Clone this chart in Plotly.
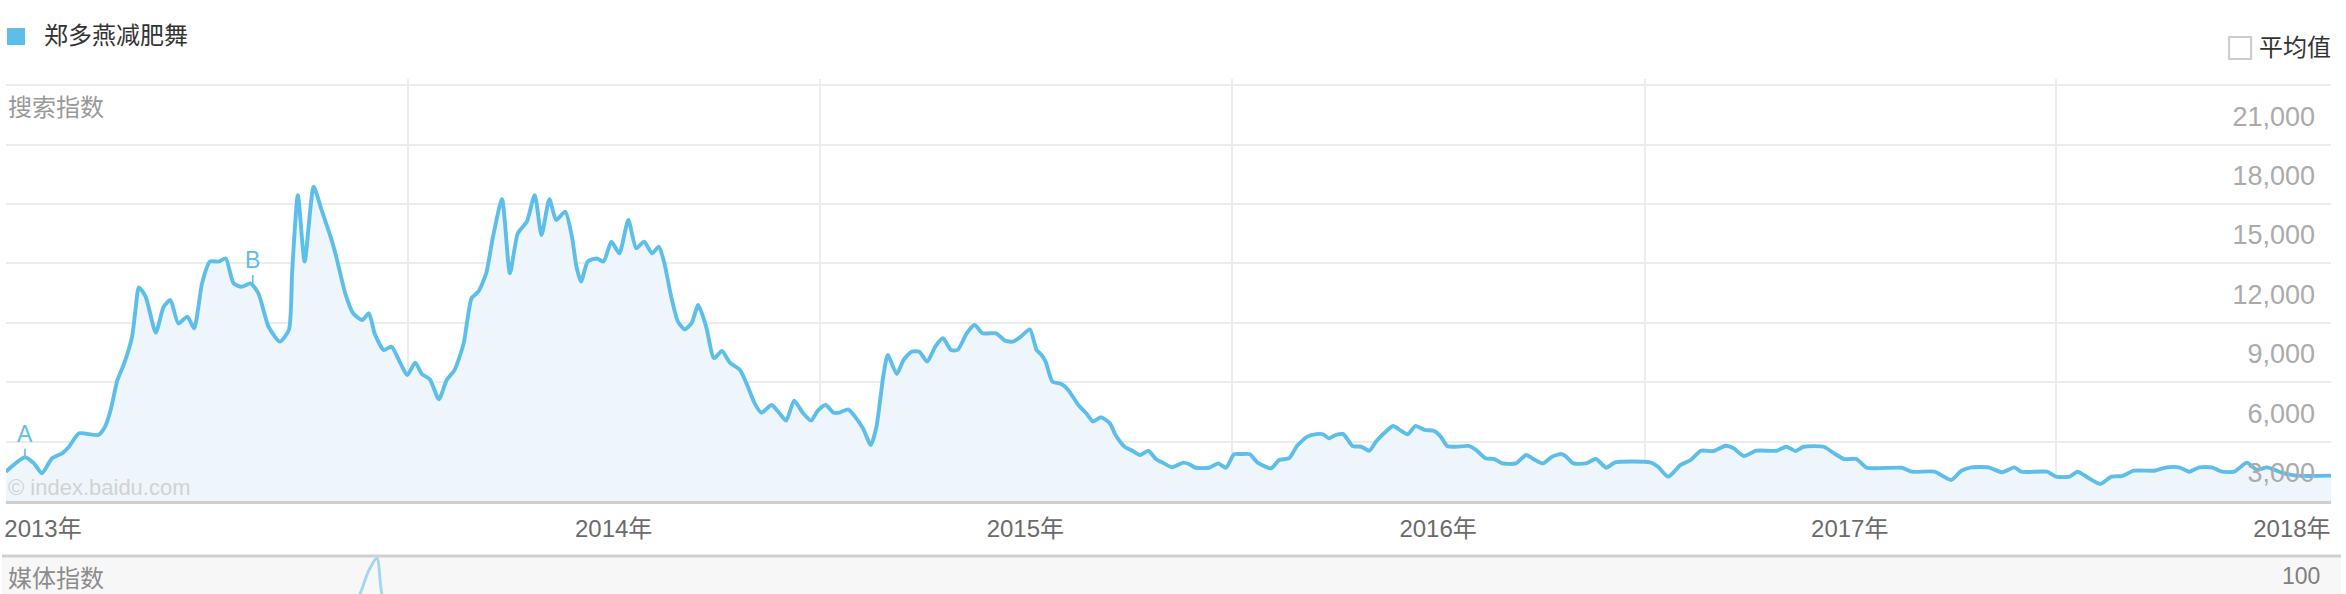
import pandas as pd
import plotly.graph_objects as go

# ---------------- data ----------------
series_name = "郑多燕减肥舞"
base_date = pd.Timestamp("2013-01-01")

# search index: day offset since 2013-01-01, value
search_days = [8, 25, 33, 40, 49, 58, 64, 73, 90, 96, 101, 107, 113, 120, 123, 126, 132, 141, 148, 154,
               161, 169, 175, 182, 189, 197, 203, 210, 217, 225, 232, 241, 251, 259, 262, 267, 273, 281, 288, 296,
               301, 309, 316, 324, 330, 335, 343, 350, 358, 364, 371, 377, 384, 392, 399, 406, 414, 421, 427, 434,
               440, 448, 455, 462, 470, 477, 483, 490, 496, 504, 510, 514, 518, 524, 532, 538, 545, 552, 560, 567,
               574, 581, 587, 592, 598, 604, 610, 616, 622, 629, 636, 643, 650, 659, 666, 672, 678, 687, 694, 700,
               707, 715, 722, 728, 735, 742, 747, 755, 761, 768, 775, 780, 786, 790, 798, 804, 811, 818, 825, 832,
               839, 846, 852, 860, 867, 874, 886, 894, 901, 908, 916, 922, 926, 930, 936, 944, 950, 959, 966, 972,
               979, 987, 992, 1000, 1007, 1014, 1021, 1028, 1035, 1042, 1052, 1057, 1063, 1075, 1083, 1090, 1097, 1103, 1111, 1118,
               1130, 1137, 1146, 1153, 1162, 1170, 1176, 1181, 1187, 1194, 1202, 1210, 1217, 1223, 1230, 1238, 1245, 1251, 1258, 1266,
               1274, 1280, 1286, 1294, 1305, 1311, 1320, 1328, 1335, 1347, 1356, 1363, 1371, 1379, 1387, 1391, 1398, 1409, 1418, 1427,
               1435, 1466, 1473, 1482, 1493, 1502, 1511, 1522, 1533, 1540, 1549, 1560, 1578, 1587, 1595, 1602, 1620, 1629, 1638, 1649,
               1658, 1689, 1698, 1718, 1733, 1742, 1751, 1766, 1778, 1789, 1795, 1818, 1826, 1838, 1845, 1855, 1865, 1875, 1884, 1895,
               1913, 1924, 1935, 1944, 1953, 1964, 1973, 1984, 1995, 2004, 2013, 2026, 2039, 2070]
search_values = [1480, 2210, 1900, 1400, 2160, 2410, 2740, 3420, 3330, 3750, 4600, 6110, 6950, 8300, 9650, 10790, 10320, 8500, 9810, 10150,
                 8970, 9310, 8720, 10990, 12090, 12090, 12250, 10990, 10820, 10990, 10490, 8800, 8050, 8640, 11670, 15450, 12090, 15870, 14700, 13350,
                 12340, 10490, 9480, 9140, 9480, 8470, 7630, 7790, 6950, 6360, 6990, 6410, 6150, 5140, 6110, 6620, 7960, 10240, 10570, 11500,
                 13350, 15240, 11500, 13520, 14110, 15450, 13430, 15240, 14190, 14610, 13350, 11830, 11080, 12090, 12250, 12090, 13100, 12510, 14190, 12760,
                 13100, 12510, 12840, 12000, 10320, 9060, 8670, 8970, 9900, 8800, 7210, 7580, 6990, 6620, 5770, 4930, 4460, 4850, 4430, 4060,
                 5070, 4430, 4060, 4560, 4850, 4460, 4460, 4630, 4260, 3670, 2830, 3750, 6280, 7370, 6410, 7120, 7540, 7540, 7040, 7790,
                 8220, 7630, 7630, 8470, 8890, 8470, 8470, 8100, 8050, 8300, 8670, 7630, 7400, 7040, 6030, 5910, 5610, 4850, 4430, 4010,
                 4230, 3920, 3330, 2740, 2540, 2320, 2540, 2110, 1900, 1700, 1940, 1870, 1680, 1680, 1900, 1680, 2360, 2370, 2360, 1940,
                 1650, 2070, 2160, 2790, 3250, 3380, 3370, 3170, 3330, 3380, 2780, 2740, 2540, 3000, 3420, 3790, 3550, 3370, 3790, 3590,
                 3550, 3280, 2780, 2740, 2780, 2610, 2160, 2120, 1900, 1900, 2320, 2100, 1900, 2240, 2370, 2270, 1900, 1900, 2120, 1680,
                 1950, 1950, 1730, 1230, 1820, 2070, 2540, 2520, 2790, 2660, 2270, 2540, 2540, 2740, 2520, 2740, 2740, 2410, 2120, 2120,
                 1680, 1680, 1480, 1480, 1060, 1530, 1700, 1700, 1450, 1700, 1480, 1480, 1230, 1230, 1480, 1150, 860, 1230, 1260, 1530,
                 1530, 1700, 1700, 1480, 1700, 1700, 1480, 1480, 1940, 1570, 1700, 1430, 1280, 1280]

# media index (only the top of the panel is visible)
media_days = [8, 250, 300, 318, 330, 337, 341, 346, 380, 2070]
media_values = [2, 3, 5, 25, 80, 100, 45, 8, 3, 2]

# event markers
marker_labels = ["A", "B"]
marker_days = [25, 227]
marker_values = [2210, 10990]

# axes
y_ticks = [3000, 6000, 9000, 12000, 15000, 18000, 21000]
year_labels = ["2013年", "2014年", "2015年", "2016年", "2017年", "2018年"]
year_label_dates = ["2013-02-11", "2014-07-02", "2015-07-02", "2016-07-02", "2017-07-02", "2018-07-29"]
year_grid_dates = ["2014-01-01", "2015-01-01", "2016-01-01", "2017-01-01", "2018-01-01"]

# ---------------- figure ----------------
W, H = 2346, 594
def px_x(p):
    return p / W
def px_y(p):
    return 1 - p / H

to_date = lambda d: base_date + pd.to_timedelta(d, unit="D")
x_search = [to_date(d) for d in search_days]
x_media = [to_date(d) for d in media_days]
x_range = [to_date(8.2), to_date(2069.7)]

BLUE = "#5ebeea"
FONT = "Liberation Sans, Noto Sans CJK SC, sans-serif"
CJK = "Noto Sans CJK SC, sans-serif"

fig = go.Figure()
fig.add_trace(go.Scatter(
    x=x_search, y=search_values, mode="lines", name=series_name,
    line=dict(color=BLUE, width=3.9, shape="spline", smoothing=0.6),
    fill="tozeroy", fillcolor="#eef6fc", xaxis="x", yaxis="y", showlegend=False,
))
fig.add_trace(go.Scatter(
    x=x_media, y=media_values, mode="lines", name="媒体指数",
    line=dict(color="rgba(94,190,234,0.55)", width=3, shape="spline", smoothing=0.8),
    xaxis="x2", yaxis="y2", showlegend=False,
))

x_dom = [px_x(4), px_x(2331)]
y_top_val = 21300
y_dom = [px_y(501), px_y(501 - y_top_val * 59.4 / 3000)]

fig.update_layout(
    width=W, height=H, margin=dict(l=0, r=0, t=0, b=0),
    paper_bgcolor="white", plot_bgcolor="rgba(0,0,0,0)",
    font=dict(family=FONT),
    xaxis=dict(
        type="date", domain=x_dom, range=x_range, anchor="y",
        tickmode="array", tickvals=year_label_dates, ticktext=year_labels,
        tickfont=dict(size=24, color="#6b6b6b", family=FONT),
        showgrid=False, zeroline=False, ticks="",
        showline=True, linecolor="#cfcfcf", linewidth=3,
        ticklabelstandoff=4, ticklabeloverflow="allow",
        minor=dict(tickmode="array", tickvals=year_grid_dates, showgrid=True,
                   gridcolor="#ececec", gridwidth=2, ticks=""),
    ),
    yaxis=dict(
        domain=y_dom, range=[0, y_top_val], anchor="x", side="right",
        tickmode="array", tickvals=y_ticks, ticktext=[f"{v:,}" for v in y_ticks],
        ticklabelposition="inside", ticklabelshift=31, ticklabelstandoff=13,
        ticklabeloverflow="allow",
        tickfont=dict(size=27, color="#ababab", family=FONT),
        showgrid=True, gridcolor="#ececec", gridwidth=2, zeroline=False, ticks="",
    ),
    xaxis2=dict(type="date", domain=x_dom, range=x_range, anchor="y2",
                showgrid=False, showticklabels=False, zeroline=False, ticks=""),
    yaxis2=dict(domain=[0, px_y(557)], range=[40, 102], anchor="x2",
                showgrid=False, showticklabels=False, zeroline=False, ticks=""),
)

shapes = [
    # legend swatch
    dict(type="rect", xref="paper", yref="paper", x0=px_x(5), x1=px_x(23), y0=px_y(28), y1=px_y(45),
         fillcolor=BLUE, line=dict(width=0)),
    # average checkbox
    dict(type="rect", xref="paper", yref="paper", x0=px_x(2229), x1=px_x(2251), y0=px_y(37), y1=px_y(59),
         fillcolor="white", line=dict(color="#cccccc", width=2)),
    # media panel
    dict(type="rect", xref="paper", yref="paper", x0=0, x1=px_x(2341), y0=0, y1=px_y(556),
         fillcolor="#f7f7f7", line=dict(width=0), layer="below"),
    dict(type="line", xref="paper", yref="paper", x0=0, x1=px_x(2341), y0=px_y(556), y1=px_y(556),
         line=dict(color="#cfcfcf", width=3)),
]
fig.update_layout(shapes=shapes)

ann = [
    dict(text=series_name, x=px_x(40), y=px_y(34), xanchor="left", yanchor="middle",
         font=dict(size=24, color="#333333", family=CJK)),
    dict(text="平均值", x=px_x(2257), y=px_y(45), xanchor="left", yanchor="middle",
         font=dict(size=24, color="#333333", family=CJK)),
    dict(text="搜索指数", x=px_x(4), y=px_y(105), xanchor="left", yanchor="middle",
         font=dict(size=24, color="#999999", family=CJK)),
    dict(text="© index.baidu.com", x=px_x(4), y=px_y(487), xanchor="left", yanchor="middle",
         font=dict(size=22, color="#d2d2d2", family=FONT)),
    dict(text="媒体指数", x=px_x(4), y=px_y(576), xanchor="left", yanchor="middle",
         font=dict(size=24, color="#8c8c8c", family=CJK)),
    dict(text="100", x=px_x(2322), y=px_y(576), xanchor="right", yanchor="middle",
         font=dict(size=23, color="#808080", family=FONT)),
]
for a in ann:
    a.update(xref="paper", yref="paper", showarrow=False)
for lab, d, v in zip(marker_labels, marker_days, marker_values):
    ann.append(dict(text=lab, x=to_date(d), y=v, xref="x", yref="y",
                    showarrow=True, arrowhead=0, arrowwidth=1.6, arrowcolor=BLUE,
                    ax=0, ay=-23, font=dict(size=23, color=BLUE, family=FONT)))
fig.update_layout(annotations=ann)

fig.write_html("out.html", config={"displayModeBar": False},
               post_script="document.body.style.margin='0';document.body.style.padding='0';"
                           "document.body.style.overflow='hidden';")
